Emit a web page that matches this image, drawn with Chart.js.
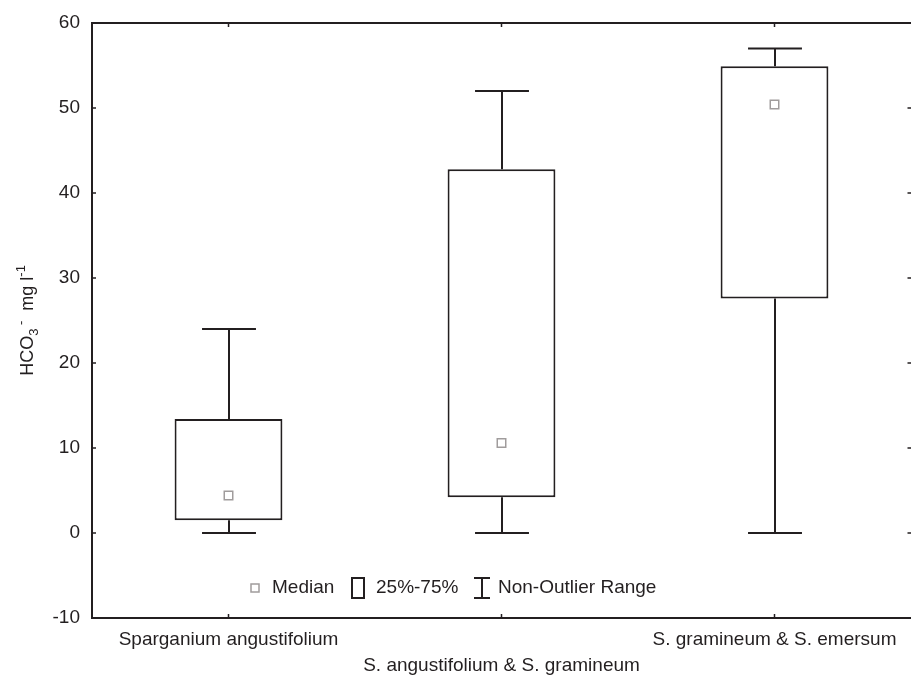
<!DOCTYPE html>
<html>
<head>
<meta charset="utf-8">
<script src="https://cdn.jsdelivr.net/npm/chart.js@4/dist/chart.umd.min.js"></script>
<style>
html,body{margin:0;padding:0;background:#fff;}
#wrap{width:911px;height:677px;position:relative;}
</style>
</head>
<body>
<div id="wrap"><canvas id="c" width="911" height="677"></canvas></div>
<script>
const categories = ['Sparganium angustifolium', 'S. angustifolium & S. gramineum', 'S. gramineum & S. emersum'];
const minValues = [0, 0, 0];
const q1Values = [1.5, 4.2, 27.6];
const medianValues = [4.4, 10.6, 50.4];
const q3Values = [13.4, 42.8, 54.9];
const maxValues = [24, 52, 57];
const yMin = -10, yMax = 60, yStep = 10;
const legendLabels = ['Median', '25%-75%', 'Non-Outlier Range'];

const INK = '#231f20';
const FONT = '"Liberation Sans", Arial, sans-serif';

const boxPlugin = {
  id: 'boxExtras',
  afterDatasetsDraw(chart) {
    const {ctx, scales: {x, y}} = chart;
    const meta = chart.getDatasetMeta(0);
    ctx.save();
    ctx.strokeStyle = INK;
    ctx.lineWidth = 2;
    categories.forEach((c, i) => {
      const cx = Math.round(x.getPixelForValue(i));
      const half = meta.data[i].width / 4;
      const yMaxP = y.getPixelForValue(maxValues[i]);
      const yQ3 = y.getPixelForValue(q3Values[i]);
      const yQ1 = y.getPixelForValue(q1Values[i]);
      const yMinP = y.getPixelForValue(minValues[i]);
      ctx.beginPath();
      ctx.moveTo(cx, yQ3); ctx.lineTo(cx, yMaxP);
      ctx.moveTo(cx - half, yMaxP); ctx.lineTo(cx + half, yMaxP);
      ctx.moveTo(cx, yQ1); ctx.lineTo(cx, yMinP);
      ctx.moveTo(cx - half, yMinP); ctx.lineTo(cx + half, yMinP);
      ctx.stroke();
    });
    ctx.restore();
  },
  afterDraw(chart) {
    const {ctx, chartArea: a, scales: {x, y}} = chart;
    const right = a.right + 2.5; // right frame edge lies just beyond the canvas, as in the source image
    ctx.save();
    ctx.strokeStyle = INK;
    ctx.lineWidth = 2;
    ctx.strokeRect(a.left, a.top, right - a.left, a.bottom - a.top);
    ctx.lineWidth = 1.5;
    ctx.beginPath();
    for (let v = yMin; v <= yMax; v += yStep) {
      const py = y.getPixelForValue(v);
      ctx.moveTo(a.left, py); ctx.lineTo(a.left + 4, py);
      ctx.moveTo(right, py); ctx.lineTo(right - 6, py);
    }
    categories.forEach((c, i) => {
      const px = x.getPixelForValue(i);
      ctx.moveTo(px, a.bottom); ctx.lineTo(px, a.bottom - 4);
      ctx.moveTo(px, a.top); ctx.lineTo(px, a.top + 4);
    });
    ctx.stroke();

    // legend
    const ly = 588;
    ctx.font = '19px ' + FONT;
    ctx.textBaseline = 'middle';
    ctx.textAlign = 'left';
    ctx.strokeStyle = '#a09c9c';
    ctx.lineWidth = 1.5;
    ctx.fillStyle = '#fff';
    ctx.fillRect(251, ly - 4, 8, 8);
    ctx.strokeRect(251, ly - 4, 8, 8);
    ctx.fillStyle = INK;
    ctx.fillText(legendLabels[0], 272, ly);
    ctx.strokeStyle = INK;
    ctx.lineWidth = 2;
    ctx.strokeRect(352, ly - 10, 12, 20);
    ctx.fillText(legendLabels[1], 376, ly);
    ctx.beginPath();
    ctx.moveTo(482, ly - 10); ctx.lineTo(482, ly + 10);
    ctx.moveTo(474, ly - 10); ctx.lineTo(490, ly - 10);
    ctx.moveTo(474, ly + 10); ctx.lineTo(490, ly + 10);
    ctx.stroke();
    ctx.fillText(legendLabels[2], 498, ly);

    // y axis title
    ctx.translate(27, (a.top + a.bottom) / 2);
    ctx.rotate(-Math.PI / 2);
    const parts = [
      {t: 'HCO', f: 18, dy: 0},
      {t: '3', f: 13, dy: 5},
      {t: ' -', f: 13, dy: -8},
      {t: '  mg l', f: 18, dy: 0},
      {t: '-1', f: 13, dy: -8}
    ];
    let total = 0;
    parts.forEach(p => { ctx.font = p.f + 'px ' + FONT; p.w = ctx.measureText(p.t).width; total += p.w; });
    let cx = -total / 2;
    ctx.textBaseline = 'alphabetic';
    parts.forEach(p => {
      ctx.font = p.f + 'px ' + FONT;
      ctx.fillText(p.t, cx, 6 + p.dy);
      cx += p.w;
    });
    ctx.restore();
  }
};

const boxData = q1Values.map((q, i) => [q, q3Values[i]]);

new Chart(document.getElementById('c'), {
  data: {
    labels: categories,
    datasets: [
      {
        type: 'bar',
        label: legendLabels[1],
        data: boxData,
        backgroundColor: '#ffffff',
        borderColor: INK,
        borderWidth: 2,
        borderSkipped: false,
        barPercentage: 0.395,
        categoryPercentage: 1,
        order: 2
      },
      {
        type: 'line',
        label: legendLabels[0],
        data: medianValues,
        showLine: false,
        pointStyle: 'rect',
        pointRadius: 6,
        pointBorderColor: '#a09c9c',
        pointBackgroundColor: '#ffffff',
        pointBorderWidth: 1.5,
        order: 1
      }
    ]
  },
  options: {
    responsive: false,
    animation: false,
    events: [],
    layout: {autoPadding: false, padding: {top: 23, right: 0, left: 0, bottom: 0}},
    plugins: {legend: {display: false}, tooltip: {enabled: false}},
    scales: {
      x: {
        type: 'category',
        offset: true,
        grid: {display: false, drawTicks: false},
        border: {display: false},
        ticks: {
          autoSkip: false,
          maxRotation: 0,
          minRotation: 0,
          padding: 9,
          color: INK,
          font: {family: FONT, size: 19, lineHeight: 1.37},
          callback: (v, i) => (i % 2 ? ['', categories[i]] : categories[i])
        },
        afterFit: s => { s.height = 59; s.paddingLeft = 0; s.paddingRight = 0; }
      },
      y: {
        min: yMin,
        max: yMax,
        grid: {display: false, drawTicks: false},
        border: {display: false},
        ticks: {
          stepSize: yStep,
          padding: 12,
          color: INK,
          font: {family: FONT, size: 19}
        },
        afterFit: s => { s.width = 92; s.paddingTop = 0; s.paddingBottom = 0; }
      }
    }
  },
  plugins: [boxPlugin]
});
</script>
</body>
</html>
